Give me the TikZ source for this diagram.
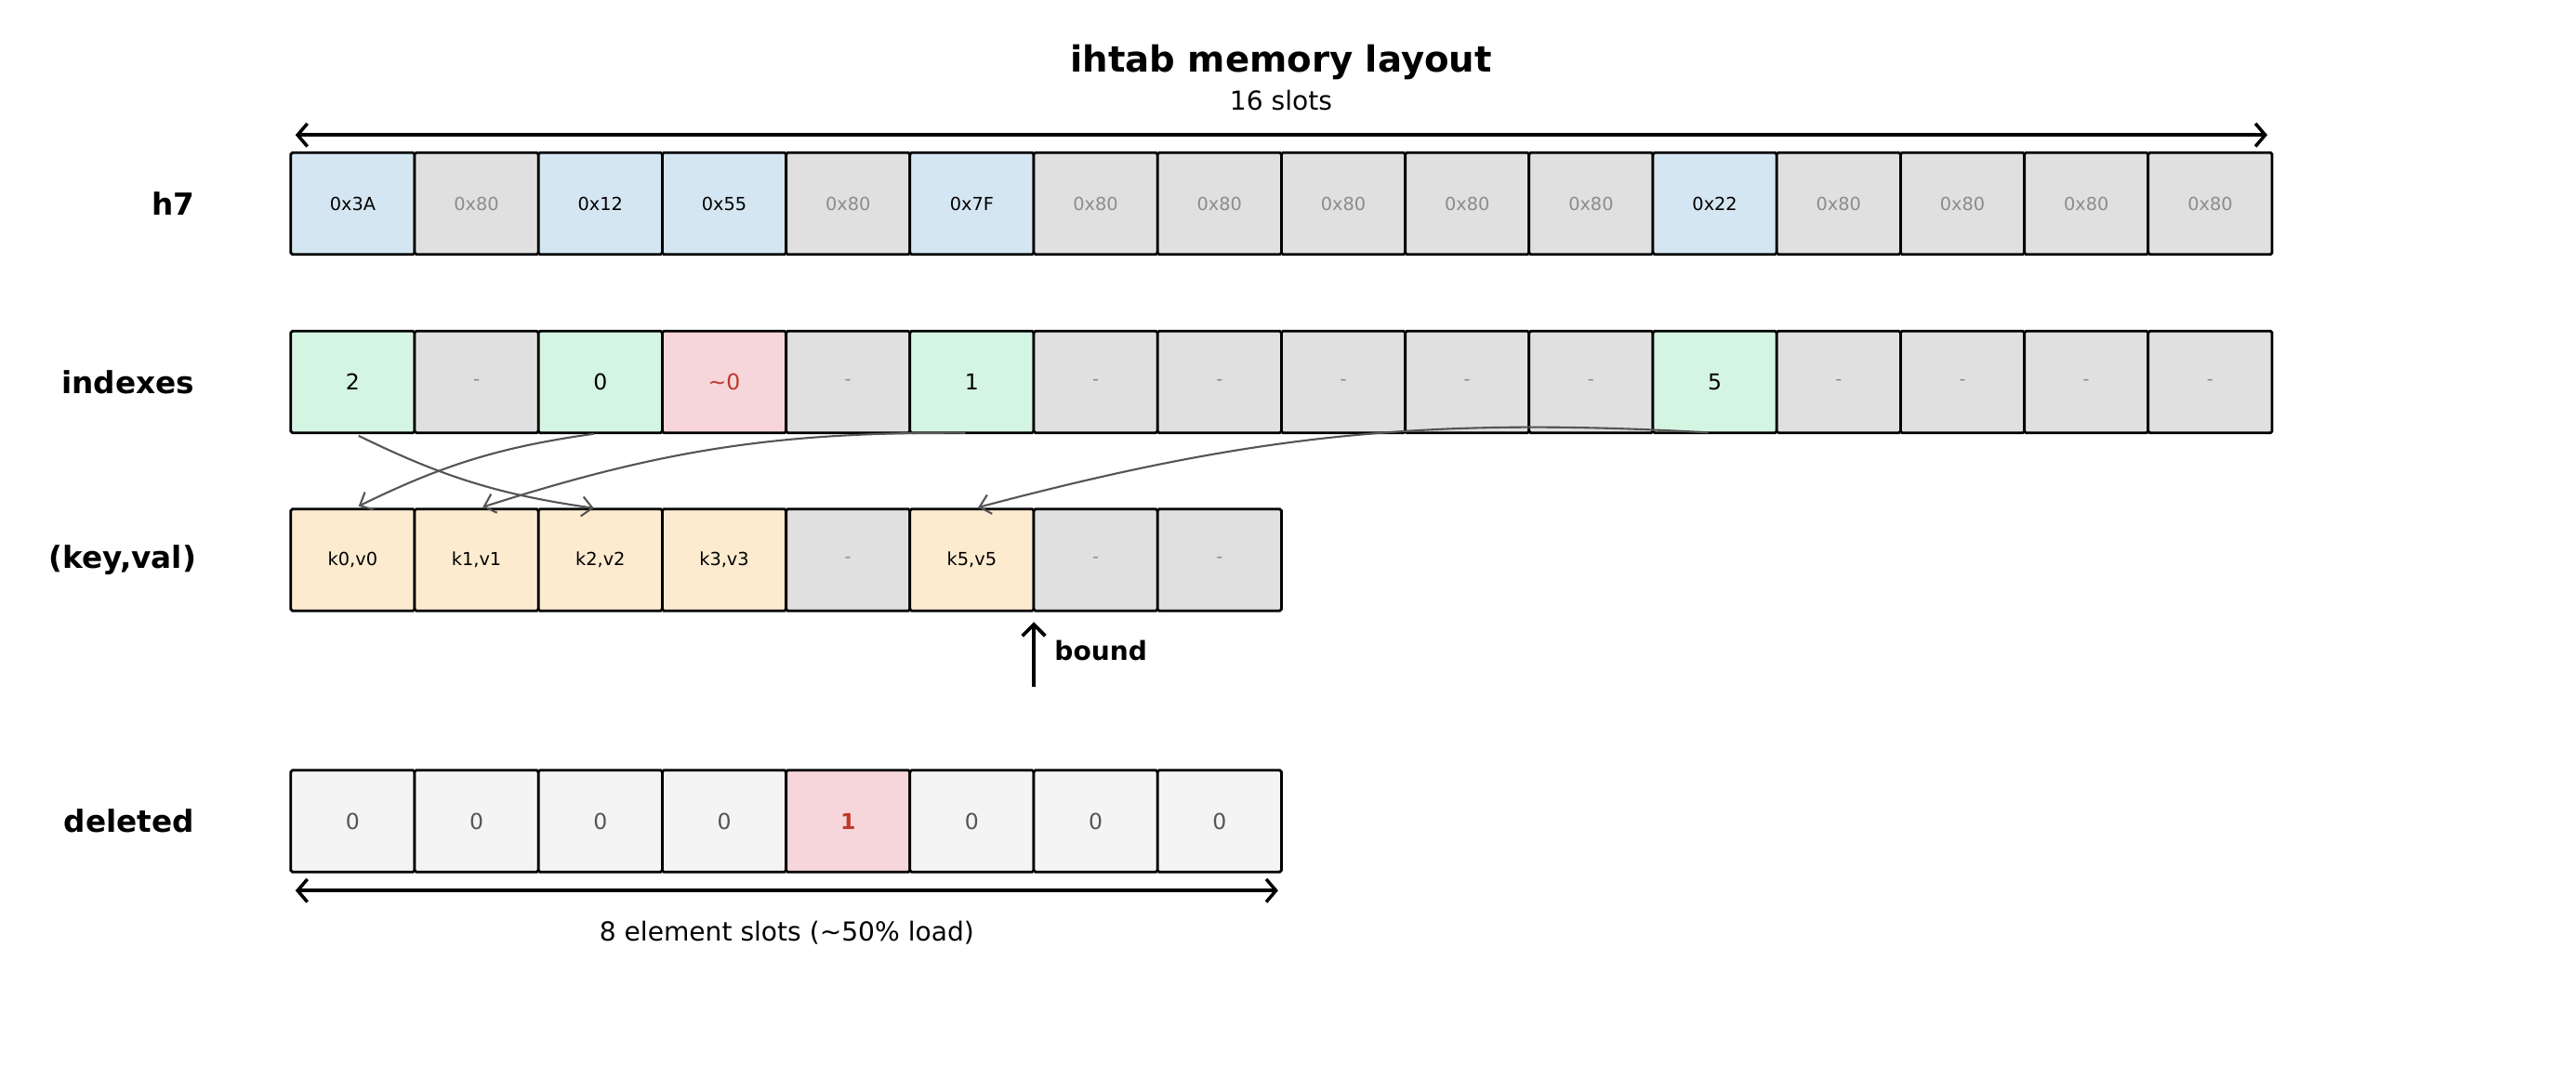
\documentclass[tikz,border=0pt]{standalone}
\usepackage{fontspec}
\setmainfont{DejaVu Sans}
\usetikzlibrary{positioning, arrows.meta}
\definecolor{hashblue}{HTML}{D4E6F1}
\definecolor{slotgray}{HTML}{E0E0E0}
\definecolor{idxgreen}{HTML}{D5F5E3}
\definecolor{tombpink}{HTML}{F6D6DA}
\definecolor{tombred}{HTML}{C0392B}
\definecolor{kvorange}{HTML}{FDEBD0}
\definecolor{delgray}{HTML}{F4F4F4}
\definecolor{dimtext}{HTML}{8C8C8C}
\definecolor{zerotext}{HTML}{555555}
\definecolor{linkgray}{HTML}{555555}

\begin{document}
\begin{tikzpicture}[
    cell/.style={rectangle, draw=black, line width=0.8pt, rounded corners=0.5pt, minimum width=1.332cm, minimum height=1.095cm, inner sep=0pt, outer sep=0pt, font=\fontsize{5.5}{6.5}\selectfont},
    digit/.style={font=\fontsize{6.7}{8}\selectfont},
    hashfull/.style={cell, fill=hashblue},
    hashempty/.style={cell, fill=slotgray, text=dimtext},
    idxfull/.style={cell, digit, fill=idxgreen},
    idxtomb/.style={cell, digit, fill=tombpink, text=tombred},
    idxempty/.style={cell, fill=slotgray, text=dimtext},
    kvfull/.style={cell, fill=kvorange},
    kvempty/.style={cell, fill=slotgray, text=dimtext},
    delzero/.style={cell, digit, fill=delgray, text=zerotext},
    delone/.style={cell, digit, fill=tombpink, text=tombred, font=\fontsize{6.7}{8}\selectfont\bfseries},
    rowlabel/.style={font=\fontsize{9.3}{11}\selectfont\bfseries, inner sep=0pt},
    link/.style={draw=linkgray, line width=0.6pt, -{Straight Barb[length=3.2pt, width=6pt]}, shorten >=2pt, shorten <=2pt},
    span/.style={line width=1pt, {Straight Barb[length=3pt, width=7pt]}-{Straight Barb[length=3pt, width=7pt]}},
    boundarrow/.style={line width=1.1pt, -{Straight Barb[length=3.5pt, width=7pt]}}
]
    \useasboundingbox (0,0) rectangle (27.71,-11.47);

    \node[font=\fontsize{11}{13}\selectfont\bfseries] (title) at (13.78,-0.67) {ihtab memory layout};
    \node[font=\fontsize{8}{10}\selectfont] (slots16) at (13.78,-1.08) {16 slots};

    % control bytes
    \foreach \val/\kind [count=\i from 0] in {0x3A/hashfull, 0x80/hashempty, 0x12/hashfull, 0x55/hashfull, 0x80/hashempty, 0x7F/hashfull, 0x80/hashempty, 0x80/hashempty, 0x80/hashempty, 0x80/hashempty, 0x80/hashempty, 0x22/hashfull, 0x80/hashempty, 0x80/hashempty, 0x80/hashempty, 0x80/hashempty}
        \node[\kind] (h\i) at (3.794+1.332*\i, -2.19) {\val};

    % index slots
    \foreach \val/\kind [count=\i from 0] in {2/idxfull, -/idxempty, 0/idxfull, \textasciitilde0/idxtomb, -/idxempty, 1/idxfull, -/idxempty, -/idxempty, -/idxempty, -/idxempty, -/idxempty, 5/idxfull, -/idxempty, -/idxempty, -/idxempty, -/idxempty}
        \node[\kind] (ix\i) at (3.794+1.332*\i, -4.11) {\val};

    % element storage
    \foreach \val/\kind [count=\i from 0] in {{k0,v0}/kvfull, {k1,v1}/kvfull, {k2,v2}/kvfull, {k3,v3}/kvfull, -/kvempty, {k5,v5}/kvfull, -/kvempty, -/kvempty}
        \node[\kind] (kv\i) at (3.794+1.332*\i, -6.025) {\val};

    \foreach \val/\kind [count=\i from 0] in {0/delzero, 0/delzero, 0/delzero, 0/delzero, 1/delone, 0/delzero, 0/delzero, 0/delzero}
        \node[\kind] (del\i) at (3.794+1.332*\i, -8.835) {\val};

    \node[rowlabel, left=1.03cm of h0] (lblh7) {h7};
    \node[rowlabel, left=1.03cm of ix0] (lblidx) {indexes};
    \node[rowlabel, left=1.01cm of kv0] (lblkv) {(key,val)};
    \node[rowlabel, left=1.03cm of del0] (lbldel) {deleted};

    \draw[span] ([shift={(0.05,0.19)}]h0.north west) -- ([shift={(-0.05,0.19)}]h15.north east);
    \draw[span] ([shift={(0.05,-0.2)}]del0.south west) -- ([shift={(-0.035,-0.2)}]del7.south east)
        node[midway, below=0.19cm, font=\fontsize{8}{10}\selectfont] (loadnote) {8 element slots (\textasciitilde50\% load)};

    \draw[link] (ix0.south) to[bend right=9] (kv2.north);
    \draw[link] (ix2.south) to[bend right=9] (kv0.north);
    \draw[link] (ix5.south) to[bend right=9] (kv1.north);
    \draw[link] (ix11.south) to[bend right=9] (kv5.north);

    \coordinate (boundfoot) at ([yshift=-0.82cm]kv5.south east);
    \coordinate (boundtip) at ([yshift=-0.12cm]kv5.south east);
    \coordinate (boundmid) at ([yshift=-0.43cm]kv5.south east);
    \draw[boundarrow] (boundfoot) -- (boundtip);
    \node[font=\fontsize{8}{10}\selectfont\bfseries, right=0.1cm of boundmid] (boundlbl) {bound};
\end{tikzpicture}
\end{document}
